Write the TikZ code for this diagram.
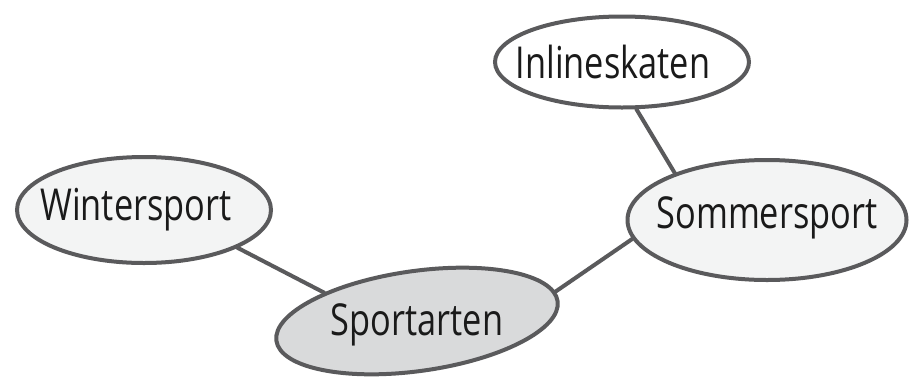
\documentclass[tikz,border=0pt]{standalone}
\usepackage{fontspec}
\setmainfont{Open Sans}
\usepackage{graphicx}
\usetikzlibrary{shapes.geometric,backgrounds}
\definecolor{edgegray}{HTML}{5A5A5C}
\definecolor{lightfill}{HTML}{F3F4F4}
\definecolor{rootfill}{HTML}{D9DADB}
\definecolor{inkcol}{HTML}{1A1A1A}
\tikzset{
  bubble/.style={ellipse, draw=edgegray, line width=4pt, inner sep=0pt,
    text=inkcol, font=\fontsize{44}{44}\selectfont},
  link/.style={draw=edgegray, line width=4pt, line cap=round},
}
\newcommand\hand[3]{\smash{\makebox[0pt]{\hspace*{#1}\hspace*{#1}\raisebox{#2}{\scalebox{0.78}[1]{#3}}}}}
\begin{document}
\begin{tikzpicture}[x=1pt,y=-1pt]
\useasboundingbox (0,0) rectangle (910,381);
\node[bubble, fill=white, minimum width=254pt, minimum height=91pt] (inl) at (622,62) {\hand{-9pt}{-16pt}{Inlineskaten}};
\node[bubble, fill=lightfill, minimum width=254pt, minimum height=106pt] (win) at (144,210) {\hand{-8pt}{-10pt}{Wintersport}};
\node[bubble, fill=lightfill, minimum width=279pt, minimum height=120pt] (som) at (767,220) {\hand{0pt}{-8pt}{Sommersport}};
\node[bubble, fill=rootfill, minimum width=284pt, minimum height=100pt, rotate=8] (spt) at (417,321) {\rotatebox{-8}{\hand{0pt}{-14pt}{Sportarten}}};
\begin{scope}[on background layer]
\draw[link] (inl.-73) -- (som.153);
\draw[link] (win.-22) -- (spt.155);
\draw[link] (spt.4) -- (som.188);
\end{scope}
\end{tikzpicture}
\end{document}
